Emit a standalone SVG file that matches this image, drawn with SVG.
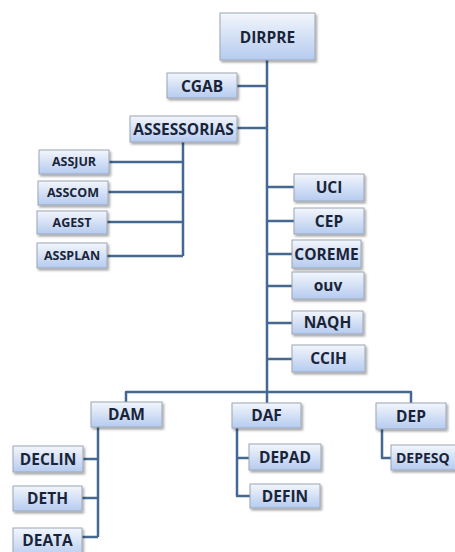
<svg xmlns="http://www.w3.org/2000/svg" width="455" height="552" viewBox="0 0 455 552">
<defs>
<linearGradient id="g" x1="0" y1="0" x2="0" y2="1">
<stop offset="0" stop-color="#f3f6fc"/>
<stop offset="1" stop-color="#b5cbef"/>
</linearGradient>
<filter id="sh" x="-20%" y="-30%" width="150%" height="170%">
<feDropShadow dx="1.5" dy="2" stdDeviation="1.2" flood-color="#000" flood-opacity="0.35"/>
</filter>
</defs>
<style>
.b{fill:url(#g);stroke:#9aa6b6;stroke-width:1;filter:url(#sh)}
.t{font-family:"Open Sans","Liberation Sans",sans-serif;font-weight:bold;font-size:15.5px;fill:#1a2438;text-anchor:middle;dominant-baseline:central}
.s{font-size:12.5px}
.c{fill:none;stroke:#44688f;stroke-width:2.5;stroke-linejoin:round}
</style>
<rect width="455" height="552" fill="#fff"/>
<g id="connectors">
<path class="c" d="M267 60 V392"/>
<path class="c" d="M237 86 H267"/>
<path class="c" d="M237 128 H267"/>
<path class="c" d="M183 142 V256"/>
<path class="c" d="M109 162 H183 M108 192 H183 M107 222 H183 M107 256 H183"/>
<path class="c" d="M267 187 H294 M267 221 H294 M267 254 H292 M267 286 H292 M267 323 H292 M267 359 H292"/>
<path class="c" d="M126 402 V392 H411 V403"/>
<path class="c" d="M267 392 V403"/>
<path class="c" d="M98 427 V537"/>
<path class="c" d="M83 459 H98 M82 498 H98 M82 537 H98"/>
<path class="c" d="M237 428 V496 H250 M237 458 H249"/>
<path class="c" d="M382 429 V458 H391"/>
</g>
<g id="DIRPRE"><rect class="b" x="220" y="13" width="95" height="47"/><text class="t" x="267.5" y="36.5">DIRPRE</text></g>
<g id="CGAB"><rect class="b" x="167" y="73" width="70" height="25"/><text class="t" x="202" y="85.5">CGAB</text></g>
<g id="ASSESSORIAS"><rect class="b" x="130" y="116" width="107" height="26"/><text class="t" x="183.5" y="128.5">ASSESSORIAS</text></g>
<g id="ASSJUR"><rect class="b" x="39" y="150" width="70" height="24"/><text class="t s" x="74" y="161.5">ASSJUR</text></g>
<g id="ASSCOM"><rect class="b" x="38" y="181" width="70" height="24"/><text class="t s" x="73" y="192.5">ASSCOM</text></g>
<g id="AGEST"><rect class="b" x="37" y="211" width="70" height="23"/><text class="t s" x="72" y="222">AGEST</text></g>
<g id="ASSPLAN"><rect class="b" x="37" y="243" width="70" height="25"/><text class="t s" x="72" y="255">ASSPLAN</text></g>
<g id="UCI"><rect class="b" x="294" y="174" width="70" height="27"/><text class="t" x="329" y="187">UCI</text></g>
<g id="CEP"><rect class="b" x="294" y="208" width="70" height="26"/><text class="t" x="329" y="220.5">CEP</text></g>
<g id="COREME"><rect class="b" x="292" y="240" width="69" height="28"/><text class="t" x="326.5" y="253.5">COREME</text></g>
<g id="OUV"><rect class="b" x="292" y="272" width="72" height="27"/><text class="t" x="328" y="284.5">ouv</text></g>
<g id="NAQH"><rect class="b" x="292" y="311" width="71" height="23"/><text class="t" x="327.5" y="322">NAQH</text></g>
<g id="CCIH"><rect class="b" x="292" y="345" width="73" height="27"/><text class="t" x="328.5" y="358">CCIH</text></g>
<g id="DAM"><rect class="b" x="91" y="402" width="71" height="25"/><text class="t" x="126.5" y="414">DAM</text></g>
<g id="DAF"><rect class="b" x="232" y="403" width="69" height="25"/><text class="t" x="266.5" y="415">DAF</text></g>
<g id="DEP"><rect class="b" x="376" y="403" width="70" height="26"/><text class="t" x="411" y="415.5">DEP</text></g>
<g id="DECLIN"><rect class="b" x="13" y="446" width="70" height="26"/><text class="t" x="48" y="458.5">DECLIN</text></g>
<g id="DETH"><rect class="b" x="13" y="486" width="69" height="25"/><text class="t" x="47.5" y="498">DETH</text></g>
<g id="DEATA"><rect class="b" x="13" y="528" width="69" height="30"/><text class="t" x="47.5" y="540">DEATA</text></g>
<g id="DEPAD"><rect class="b" x="249" y="444" width="72" height="26"/><text class="t" x="285" y="456.5">DEPAD</text></g>
<g id="DEFIN"><rect class="b" x="250" y="484" width="70" height="24"/><text class="t" x="285" y="495.5">DEFIN</text></g>
<g id="DEPESQ"><rect class="b" x="391" y="445" width="72" height="25"/><text class="t" x="396" y="457" style="text-anchor:start;font-size:14px">DEPESQ</text></g>
</svg>
